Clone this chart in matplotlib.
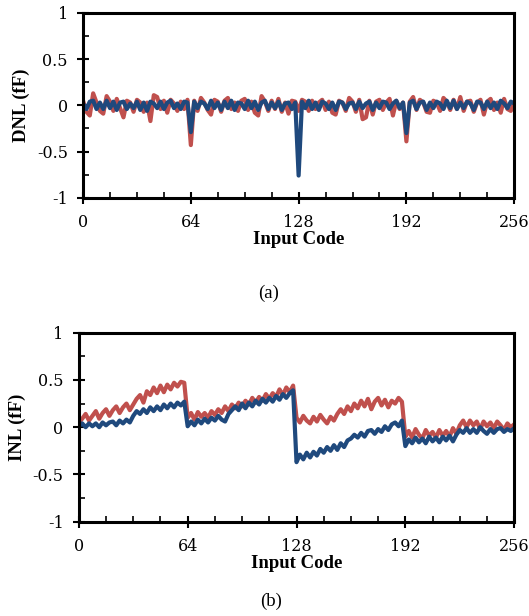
import numpy as np
import matplotlib
matplotlib.use('Agg')
import matplotlib.pyplot as plt
from matplotlib.ticker import MultipleLocator

plt.rcParams['font.family'] = ['Liberation Serif', 'DejaVu Serif']

# input codes (every second code)
codes = list(range(0, 257, 2))

# DNL (fF)
dnl_red = [
    0.05, -0.07, -0.11, 0.13, 0.03, -0.06, -0.09, 0.10,
    0.04, -0.06, 0.07, -0.03, -0.13, 0.05, 0.03, -0.07,
    0.06, 0.03, -0.07, 0.03, -0.17, 0.11, 0.09, -0.04,
    0.05, -0.08, 0.06, 0.02, -0.06, 0.04, -0.04, 0.06,
    -0.43, 0.05, -0.06, 0.08, 0.03, -0.05, -0.10, 0.06,
    0.04, -0.07, 0.05, 0.08, -0.04, 0.03, -0.06, 0.05,
    0.07, -0.05, 0.04, -0.08, -0.11, 0.10, 0.04, -0.06,
    0.05, -0.04, 0.07, -0.07, 0.03, -0.09, 0.05, 0.04,
    -0.06, 0.06, 0.04, -0.06, 0.05, -0.04, 0.03, 0.06,
    -0.05, 0.04, -0.08, -0.10, 0.05, 0.03, -0.06, 0.08,
    0.04, -0.07, 0.06, -0.15, -0.13, 0.05, -0.10, 0.04,
    0.06, -0.05, 0.03, 0.07, -0.11, 0.05, -0.04, 0.03,
    -0.39, 0.04, 0.09, -0.05, 0.06, 0.03, -0.07, -0.08,
    0.05, 0.03, -0.06, 0.08, 0.04, -0.05, 0.06, -0.04,
    0.09, -0.06, 0.04, 0.05, -0.07, 0.03, 0.06, -0.10,
    0.04, 0.07, -0.05, 0.03, -0.08, 0.07, -0.04, -0.06,
    0.03]
dnl_blue = [
    0.02, -0.04, 0.04, 0.05, -0.04, 0.03, -0.04, 0.05,
    -0.03, 0.04, -0.05, 0.03, 0.04, -0.04, 0.02, -0.03,
    0.04, -0.05, 0.03, -0.06, 0.04, 0.02, -0.03, 0.04,
    -0.04, 0.03, 0.05, -0.03, 0.02, -0.04, 0.04, 0.03,
    -0.29, 0.04, -0.03, 0.04, 0.02, -0.04, 0.05, -0.03,
    0.03, -0.05, 0.04, -0.03, 0.05, -0.05, 0.03, 0.02,
    -0.04, 0.05, -0.03, 0.04, -0.05, 0.03, 0.05, -0.04,
    0.03, -0.03, 0.04, -0.05, 0.02, 0.03, -0.04, 0.03,
    -0.76, 0.04, -0.03, 0.05, -0.04, 0.03, -0.05, 0.04,
    0.02, -0.04, 0.03, -0.05, 0.04, 0.03, -0.04, 0.02,
    0.03, -0.04, 0.04, -0.03, 0.02, 0.04, -0.05, 0.03,
    -0.03, 0.04, 0.03, -0.04, 0.02, 0.05, -0.03, 0.03,
    -0.30, 0.03, 0.05, -0.04, 0.03, 0.04, -0.05, 0.03,
    -0.03, 0.04, 0.02, -0.04, 0.05, -0.03, 0.05, -0.04,
    0.03, -0.03, 0.04, 0.02, -0.05, 0.04, 0.03, -0.04,
    0.04, -0.03, 0.03, -0.04, 0.05, 0.02, -0.03, 0.04,
    0.02]

# INL (fF)
inl_red = [
    0.05, 0.09, 0.14, 0.07, 0.12, 0.17, 0.09, 0.15,
    0.19, 0.12, 0.18, 0.22, 0.15, 0.21, 0.25, 0.18,
    0.24, 0.30, 0.34, 0.26, 0.38, 0.34, 0.42, 0.36,
    0.44, 0.37, 0.45, 0.40, 0.47, 0.43, 0.48, 0.47,
    0.10, 0.15, 0.08, 0.16, 0.11, 0.15, 0.10, 0.17,
    0.13, 0.19, 0.15, 0.22, 0.17, 0.24, 0.20, 0.26,
    0.22, 0.28, 0.24, 0.31, 0.26, 0.32, 0.28, 0.35,
    0.30, 0.36, 0.32, 0.40, 0.34, 0.42, 0.37, 0.44,
    0.10, 0.05, 0.12, 0.07, 0.04, 0.11, 0.06, 0.13,
    0.08, 0.04, 0.11, 0.07, 0.14, 0.19, 0.14, 0.22,
    0.17, 0.25, 0.20, 0.28, 0.22, 0.30, 0.19, 0.27,
    0.31, 0.23, 0.29, 0.21, 0.28, 0.25, 0.31, 0.27,
    -0.10, -0.04, -0.11, -0.02, -0.08, -0.12, -0.03, -0.09,
    -0.05, -0.11, -0.03, -0.09, -0.04, -0.10, -0.01, -0.07,
    0.02, 0.07, 0.00, 0.07, 0.02, 0.06, -0.02, 0.06,
    0.01, 0.05, -0.01, 0.06, 0.02, -0.03, 0.04, 0.00,
    0.03]
inl_blue = [
    0.01, 0.04, 0.00, 0.04, 0.01, 0.04, 0.00, 0.05,
    0.02, 0.05, 0.06, 0.02, 0.07, 0.04, 0.08, 0.05,
    0.12, 0.17, 0.14, 0.19, 0.15, 0.21, 0.17, 0.22,
    0.18, 0.24, 0.20, 0.25, 0.21, 0.26, 0.23, 0.27,
    0.01, 0.06, 0.02, 0.08, 0.04, 0.09, 0.05, 0.10,
    0.07, 0.12, 0.08, 0.06, 0.14, 0.18, 0.22, 0.18,
    0.25, 0.20, 0.26, 0.22, 0.28, 0.24, 0.30, 0.26,
    0.31, 0.27, 0.33, 0.29, 0.35, 0.31, 0.36, 0.39,
    -0.37, -0.29, -0.34, -0.27, -0.32, -0.26, -0.30, -0.23,
    -0.27, -0.21, -0.25, -0.19, -0.24, -0.17, -0.21, -0.14,
    -0.12, -0.08, -0.11, -0.06, -0.10, -0.04, -0.03, -0.07,
    -0.02, -0.05, 0.01, -0.03, 0.03, 0.05, 0.01, 0.07,
    -0.20, -0.13, -0.17, -0.11, -0.16, -0.12, -0.17, -0.10,
    -0.15, -0.11, -0.16, -0.10, -0.14, -0.09, -0.15, -0.08,
    -0.03, -0.06, -0.01, -0.06, -0.02, -0.06, 0.00, -0.04,
    -0.07, -0.02, -0.06, -0.02, -0.01, -0.05, -0.02, -0.04,
    -0.01]

xticks = [0, 64, 128, 192, 256]
xticklabels = ['0', '64', '128', '192', '256']
yticks = [-1, -0.5, 0, 0.5, 1]
yticklabels = ['-1', '-0.5', '0', '0.5', '1']

RED = '#C0504D'
BLUE = '#1F497D'

fig = plt.figure(figsize=(5.29, 6.16), dpi=100)
ax1 = fig.add_axes([0.157, 0.679, 0.815, 0.300])
ax2 = fig.add_axes([0.149, 0.153, 0.823, 0.307])


def style(ax, ylabel):
    ax.set_xlim(0, 256)
    ax.set_ylim(-1, 1)
    ax.set_xticks(xticks)
    ax.set_xticklabels(xticklabels, family='DejaVu Serif', fontsize=11.5)
    ax.set_yticks(yticks)
    ax.set_yticklabels(yticklabels, family='DejaVu Serif', fontsize=11.5)
    ax.xaxis.set_minor_locator(MultipleLocator(16))
    ax.yaxis.set_minor_locator(MultipleLocator(0.25))
    ax.tick_params(which='major', direction='inout', length=8, width=1.5)
    ax.tick_params(axis='x', which='major', pad=8)
    ax.tick_params(axis='y', which='major', pad=7)
    ax.tick_params(which='minor', direction='in', length=4, width=1.2)
    for s in ax.spines.values():
        s.set_linewidth(2.2)
    ax.set_xlabel('Input Code', fontsize=13.5, fontweight='bold', labelpad=0)
    ax.set_ylabel(ylabel, fontsize=13.5, fontweight='bold', labelpad=5)


ax1.plot(codes, dnl_red, color=RED, lw=3.0, solid_joinstyle='round')
ax1.plot(codes, dnl_blue, color=BLUE, lw=3.0, solid_joinstyle='round')
style(ax1, 'DNL (fF)')

ax2.plot(codes, inl_red, color=RED, lw=3.0, solid_joinstyle='round')
ax2.plot(codes, inl_blue, color=BLUE, lw=3.0, solid_joinstyle='round')
style(ax2, 'INL (fF)')

fig.text(0.507, 0.524, '(a)', ha='center', va='center', fontsize=13.5)
fig.text(0.512, 0.024, '(b)', ha='center', va='center', fontsize=13.5)

fig.savefig('out.png', dpi=100)
